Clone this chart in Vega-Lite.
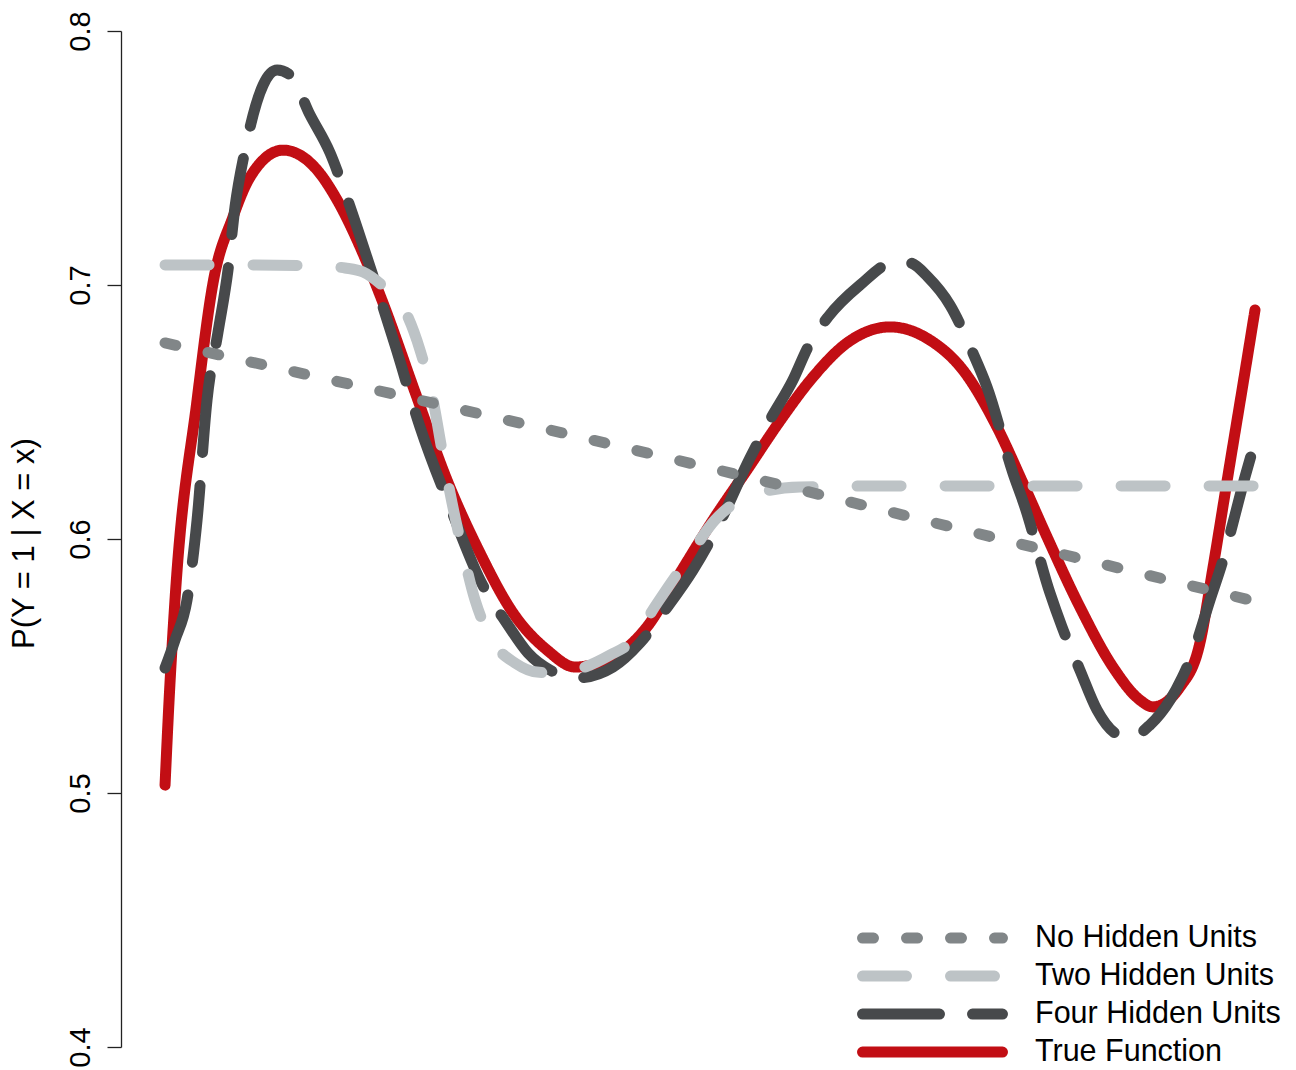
{
  "$schema": "https://vega.github.io/schema/vega-lite/v6.json",
  "width": 1175,
  "height": 1016,
  "autosize": {"type": "none"},
  "padding": {"left": 121, "top": 31, "right": 0, "bottom": 23},
  "background": "white",
  "config": {
    "view": {"stroke": null},
    "font": "Liberation Sans"
  },
  "data": {
    "values": [
      {"s": "True Function", "x": 0.0, "y": 0.5031},
      {"s": "True Function", "x": 0.0037, "y": 0.5366},
      {"s": "True Function", "x": 0.0091, "y": 0.5760},
      {"s": "True Function", "x": 0.0293, "y": 0.6547},
      {"s": "True Function", "x": 0.0439, "y": 0.7008},
      {"s": "True Function", "x": 0.0622, "y": 0.7268},
      {"s": "True Function", "x": 0.0778, "y": 0.7425},
      {"s": "True Function", "x": 0.1080, "y": 0.7531},
      {"s": "True Function", "x": 0.1391, "y": 0.7453},
      {"s": "True Function", "x": 0.1574, "y": 0.7335},
      {"s": "True Function", "x": 0.1848, "y": 0.7087},
      {"s": "True Function", "x": 0.1995, "y": 0.6929},
      {"s": "True Function", "x": 0.2287, "y": 0.6579},
      {"s": "True Function", "x": 0.2580, "y": 0.6232},
      {"s": "True Function", "x": 0.2882, "y": 0.5945},
      {"s": "True Function", "x": 0.3184, "y": 0.5709},
      {"s": "True Function", "x": 0.3495, "y": 0.5563},
      {"s": "True Function", "x": 0.3751, "y": 0.5496},
      {"s": "True Function", "x": 0.4099, "y": 0.5535},
      {"s": "True Function", "x": 0.4410, "y": 0.5654},
      {"s": "True Function", "x": 0.4712, "y": 0.5866},
      {"s": "True Function", "x": 0.5014, "y": 0.6075},
      {"s": "True Function", "x": 0.5325, "y": 0.6272},
      {"s": "True Function", "x": 0.5627, "y": 0.6465},
      {"s": "True Function", "x": 0.5929, "y": 0.6638},
      {"s": "True Function", "x": 0.6240, "y": 0.6772},
      {"s": "True Function", "x": 0.6633, "y": 0.6835},
      {"s": "True Function", "x": 0.6999, "y": 0.6783},
      {"s": "True Function", "x": 0.7301, "y": 0.6665},
      {"s": "True Function", "x": 0.7612, "y": 0.6441},
      {"s": "True Function", "x": 0.7850, "y": 0.6220},
      {"s": "True Function", "x": 0.8070, "y": 0.6008},
      {"s": "True Function", "x": 0.8371, "y": 0.5732},
      {"s": "True Function", "x": 0.8673, "y": 0.5496},
      {"s": "True Function", "x": 0.8920, "y": 0.5366},
      {"s": "True Function", "x": 0.9039, "y": 0.5339},
      {"s": "True Function", "x": 0.9286, "y": 0.5417},
      {"s": "True Function", "x": 0.9469, "y": 0.5591},
      {"s": "True Function", "x": 0.9588, "y": 0.5886},
      {"s": "True Function", "x": 0.9744, "y": 0.6299},
      {"s": "True Function", "x": 0.9863, "y": 0.6610},
      {"s": "True Function", "x": 0.9973, "y": 0.6902},

      {"s": "Four Hidden Units", "x": 0.0, "y": 0.5492},
      {"s": "Four Hidden Units", "x": 0.0091, "y": 0.5602},
      {"s": "Four Hidden Units", "x": 0.0201, "y": 0.5760},
      {"s": "Four Hidden Units", "x": 0.0293, "y": 0.6075},
      {"s": "Four Hidden Units", "x": 0.0384, "y": 0.6547},
      {"s": "Four Hidden Units", "x": 0.0485, "y": 0.6815},
      {"s": "Four Hidden Units", "x": 0.0576, "y": 0.7059},
      {"s": "Four Hidden Units", "x": 0.0640, "y": 0.7307},
      {"s": "Four Hidden Units", "x": 0.0732, "y": 0.7531},
      {"s": "Four Hidden Units", "x": 0.0897, "y": 0.7787},
      {"s": "Four Hidden Units", "x": 0.1025, "y": 0.7846},
      {"s": "Four Hidden Units", "x": 0.1144, "y": 0.7827},
      {"s": "Four Hidden Units", "x": 0.1327, "y": 0.7669},
      {"s": "Four Hidden Units", "x": 0.1510, "y": 0.7520},
      {"s": "Four Hidden Units", "x": 0.1629, "y": 0.7386},
      {"s": "Four Hidden Units", "x": 0.1876, "y": 0.7071},
      {"s": "Four Hidden Units", "x": 0.2104, "y": 0.6764},
      {"s": "Four Hidden Units", "x": 0.2333, "y": 0.6441},
      {"s": "Four Hidden Units", "x": 0.2626, "y": 0.6106},
      {"s": "Four Hidden Units", "x": 0.2882, "y": 0.5839},
      {"s": "Four Hidden Units", "x": 0.3138, "y": 0.5661},
      {"s": "Four Hidden Units", "x": 0.3321, "y": 0.5551},
      {"s": "Four Hidden Units", "x": 0.3522, "y": 0.5484},
      {"s": "Four Hidden Units", "x": 0.3769, "y": 0.5453},
      {"s": "Four Hidden Units", "x": 0.4099, "y": 0.5496},
      {"s": "Four Hidden Units", "x": 0.4346, "y": 0.5591},
      {"s": "Four Hidden Units", "x": 0.4575, "y": 0.5720},
      {"s": "Four Hidden Units", "x": 0.4831, "y": 0.5878},
      {"s": "Four Hidden Units", "x": 0.5078, "y": 0.6067},
      {"s": "Four Hidden Units", "x": 0.5352, "y": 0.6319},
      {"s": "Four Hidden Units", "x": 0.5535, "y": 0.6469},
      {"s": "Four Hidden Units", "x": 0.5745, "y": 0.6626},
      {"s": "Four Hidden Units", "x": 0.5883, "y": 0.6756},
      {"s": "Four Hidden Units", "x": 0.6066, "y": 0.6874},
      {"s": "Four Hidden Units", "x": 0.6359, "y": 0.7000},
      {"s": "Four Hidden Units", "x": 0.6679, "y": 0.7091},
      {"s": "Four Hidden Units", "x": 0.6816, "y": 0.7087},
      {"s": "Four Hidden Units", "x": 0.6981, "y": 0.7031},
      {"s": "Four Hidden Units", "x": 0.7182, "y": 0.6921},
      {"s": "Four Hidden Units", "x": 0.7392, "y": 0.6732},
      {"s": "Four Hidden Units", "x": 0.7521, "y": 0.6598},
      {"s": "Four Hidden Units", "x": 0.7758, "y": 0.6260},
      {"s": "Four Hidden Units", "x": 0.7868, "y": 0.6126},
      {"s": "Four Hidden Units", "x": 0.8097, "y": 0.5787},
      {"s": "Four Hidden Units", "x": 0.8207, "y": 0.5654},
      {"s": "Four Hidden Units", "x": 0.8371, "y": 0.5484},
      {"s": "Four Hidden Units", "x": 0.8527, "y": 0.5327},
      {"s": "Four Hidden Units", "x": 0.8692, "y": 0.5236},
      {"s": "Four Hidden Units", "x": 0.8829, "y": 0.5217},
      {"s": "Four Hidden Units", "x": 0.9012, "y": 0.5268},
      {"s": "Four Hidden Units", "x": 0.9195, "y": 0.5366},
      {"s": "Four Hidden Units", "x": 0.9305, "y": 0.5453},
      {"s": "Four Hidden Units", "x": 0.9424, "y": 0.5575},
      {"s": "Four Hidden Units", "x": 0.9561, "y": 0.5760},
      {"s": "Four Hidden Units", "x": 0.9680, "y": 0.5917},
      {"s": "Four Hidden Units", "x": 0.9771, "y": 0.6063},
      {"s": "Four Hidden Units", "x": 0.9881, "y": 0.6244},
      {"s": "Four Hidden Units", "x": 1.0, "y": 0.6420},

      {"s": "Two Hidden Units", "x": 0.0, "y": 0.7079},
      {"s": "Two Hidden Units", "x": 0.0778, "y": 0.7079},
      {"s": "Two Hidden Units", "x": 0.1418, "y": 0.7075},
      {"s": "Two Hidden Units", "x": 0.1647, "y": 0.7067},
      {"s": "Two Hidden Units", "x": 0.1812, "y": 0.7051},
      {"s": "Two Hidden Units", "x": 0.2013, "y": 0.6988},
      {"s": "Two Hidden Units", "x": 0.2178, "y": 0.6913},
      {"s": "Two Hidden Units", "x": 0.2333, "y": 0.6744},
      {"s": "Two Hidden Units", "x": 0.2452, "y": 0.6547},
      {"s": "Two Hidden Units", "x": 0.2534, "y": 0.6350},
      {"s": "Two Hidden Units", "x": 0.2626, "y": 0.6142},
      {"s": "Two Hidden Units", "x": 0.2717, "y": 0.5965},
      {"s": "Two Hidden Units", "x": 0.2836, "y": 0.5760},
      {"s": "Two Hidden Units", "x": 0.2928, "y": 0.5654},
      {"s": "Two Hidden Units", "x": 0.3019, "y": 0.5583},
      {"s": "Two Hidden Units", "x": 0.3202, "y": 0.5512},
      {"s": "Two Hidden Units", "x": 0.3403, "y": 0.5476},
      {"s": "Two Hidden Units", "x": 0.3614, "y": 0.5472},
      {"s": "Two Hidden Units", "x": 0.3843, "y": 0.5496},
      {"s": "Two Hidden Units", "x": 0.4071, "y": 0.5543},
      {"s": "Two Hidden Units", "x": 0.4254, "y": 0.5591},
      {"s": "Two Hidden Units", "x": 0.4510, "y": 0.5752},
      {"s": "Two Hidden Units", "x": 0.4785, "y": 0.5925},
      {"s": "Two Hidden Units", "x": 0.5032, "y": 0.6075},
      {"s": "Two Hidden Units", "x": 0.5261, "y": 0.6154},
      {"s": "Two Hidden Units", "x": 0.5462, "y": 0.6185},
      {"s": "Two Hidden Units", "x": 0.5810, "y": 0.6205},
      {"s": "Two Hidden Units", "x": 0.6725, "y": 0.6209},
      {"s": "Two Hidden Units", "x": 1.0, "y": 0.6209},

      {"s": "No Hidden Units", "x": 0.0, "y": 0.6772},
      {"s": "No Hidden Units", "x": 0.1848, "y": 0.6594},
      {"s": "No Hidden Units", "x": 0.3641, "y": 0.6417},
      {"s": "No Hidden Units", "x": 0.5444, "y": 0.6232},
      {"s": "No Hidden Units", "x": 0.8124, "y": 0.5949},
      {"s": "No Hidden Units", "x": 1.0, "y": 0.5752}
    ]
  },
  "mark": {"type": "line", "strokeWidth": 11, "strokeCap": "round", "strokeJoin": "round", "interpolate": "monotone"},
  "encoding": {
    "x": {"field": "x", "type": "quantitative", "scale": {"domain": [-0.0403, 1.0348], "nice": false, "zero": false}, "axis": null},
    "y": {
      "field": "y", "type": "quantitative",
      "scale": {"domain": [0.4, 0.8], "nice": false, "zero": false},
      "axis": {
        "title": "P(Y = 1 | X = x)",
        "values": [0.4, 0.5, 0.6, 0.7, 0.8],
        "format": ".1f",
        "grid": false,
        "domainColor": "#222222", "domainWidth": 1.3,
        "tickColor": "#222222", "tickWidth": 1.3, "tickSize": 14,
        "labelFont": "Liberation Sans", "labelFontSize": 29, "labelColor": "black",
        "labelAngle": -90, "labelAlign": "center", "labelBaseline": "alphabetic",
        "labelPadding": 18, "labelOverlap": false, "labelFlush": false, "labelBound": false,
        "titleFont": "Liberation Sans", "titleFontSize": 31, "titleFontWeight": "normal", "titleColor": "black",
        "titleAngle": -90, "titleAlign": "center", "titleBaseline": "alphabetic",
        "titleX": -88, "titleY": 512
      }
    },
    "color": {
      "field": "s", "type": "nominal",
      "scale": {"domain": ["No Hidden Units", "Two Hidden Units", "Four Hidden Units", "True Function"], "range": ["#818688", "#BDC3C6", "#47494B", "#C20E14"]},
      "legend": {
        "title": null, "orient": "none", "legendX": 734, "legendY": 888.4, "padding": 0,
        "symbolType": "M-0.833,0L10.833,0", "symbolSize": 576, "symbolStrokeWidth": 11,
        "labelFont": "Liberation Sans", "labelFontSize": 30.5, "labelColor": "black", "labelOffset": 145,
        "rowPadding": 0, "clipHeight": 37.3, "labelLimit": 400,
        "encode": {"symbols": {"update": {"strokeCap": {"value": "round"}, "fill": {"value": "transparent"}}}}
      }
    },
    "strokeDash": {
      "field": "s", "type": "nominal",
      "scale": {"domain": ["No Hidden Units", "Two Hidden Units", "Four Hidden Units", "True Function"], "range": [[11, 33], [44, 44], [77, 33], [1, 0]]},
      "legend": {
        "title": null, "orient": "none", "legendX": 734, "legendY": 888.4, "padding": 0,
        "symbolType": "M-0.833,0L10.833,0", "symbolSize": 576, "symbolStrokeWidth": 11,
        "labelFont": "Liberation Sans", "labelFontSize": 30.5, "labelColor": "black", "labelOffset": 145,
        "rowPadding": 0, "clipHeight": 37.3, "labelLimit": 400,
        "encode": {"symbols": {"update": {"strokeCap": {"value": "round"}, "fill": {"value": "transparent"}}}}
      }
    }
  }
}
